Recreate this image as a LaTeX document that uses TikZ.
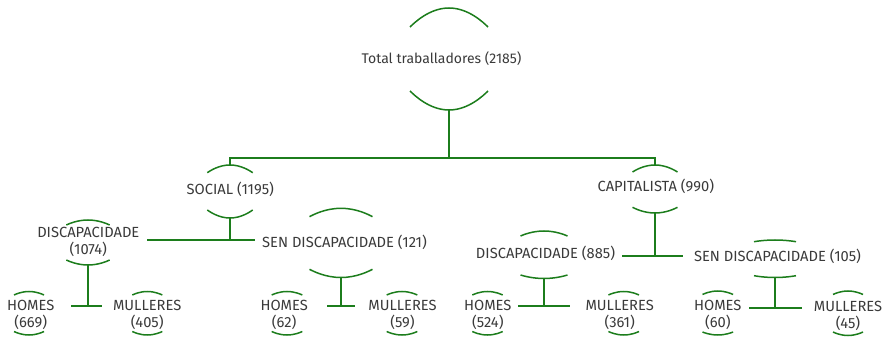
\documentclass[tikz,border=0pt]{standalone}
\usepackage{fontspec}
\setmainfont{Fira Sans}
\definecolor{lineg}{RGB}{28,125,28}
\definecolor{txt}{RGB}{58,58,58}
\newcommand\arcsAt[7]{%
  \draw[arcline] ({#1-#2},#4) parabola bend (#1,#3) ({#1+#2},#4);
  \draw[arcline] ({#1-#2},#5) parabola bend (#1,#6) ({#1+#2},#5);
  \coordinate (#7-top) at (#1,#3);
  \coordinate (#7-bot) at (#1,#6);
}
\begin{document}
\begin{tikzpicture}[x=1pt,y=-1pt,
  arcline/.style={draw=lineg,line width=1.5pt},
  conn/.style={draw=lineg,line width=2pt},
  lbl/.style={text=txt,font=\fontsize{14}{17}\selectfont,inner sep=0pt,align=center},
  capslbl/.style={lbl,font=\fontsize{14.7}{17}\selectfont}]
\useasboundingbox (0,0) rectangle (884,339);
% text nodes
\node[lbl] (T) at (441.5,59) {Total traballadores (2185)};
\node[capslbl] (S) at (230.3,189) {SOCIAL (1195)};
\node[capslbl] (C) at (655.8,186) {CAPITALISTA (990)};
\node[capslbl] (SD) at (88.3,241.7) {DISCAPACIDADE\\(1074)};
\node[capslbl] (SS) at (344.5,242.3) {SEN DISCAPACIDADE (121)};
\node[capslbl] (CD) at (545.5,253.3) {DISCAPACIDADE (885)};
\node[capslbl] (CS) at (777.5,256.5) {SEN DISCAPACIDADE (105)};
\node[capslbl] (L1) at (30.7,314.5) {HOMES\\(669)};
\node[capslbl] (L2) at (147.2,314.5) {MULLERES\\(405)};
\node[capslbl] (L3) at (284.2,314.5) {HOMES\\(62)};
\node[capslbl] (L4) at (402.5,314.5) {MULLERES\\(59)};
\node[capslbl] (L5) at (487.8,314.5) {HOMES\\(524)};
\node[capslbl] (L6) at (619.7,314.5) {MULLERES\\(361)};
\node[capslbl] (L7) at (717.8,314.5) {HOMES\\(60)};
\node[capslbl] (L8) at (848,316) {MULLERES\\(45)};
% arcs
\arcsAt{449}{39}{8}{27}{91}{110}{T}
\arcsAt{230}{22.7}{165}{172.7}{210}{218}{S}
\arcsAt{655}{22.5}{165}{172}{207.3}{213}{C}
\arcsAt{88}{21.7}{220}{225}{260}{265}{SD}
\arcsAt{341}{31.5}{208.3}{216.7}{269.3}{277.5}{SS}
\arcsAt{544}{23.5}{231}{236}{275}{278.5}{CD}
\arcsAt{775}{21}{240}{241.7}{275.7}{277.5}{CS}
\arcsAt{29}{15}{291.5}{295}{331.5}{335}{L1}
\arcsAt{147.3}{15}{291.5}{295}{331.5}{335}{L2}
\arcsAt{287}{15.3}{291.5}{295}{331.5}{335}{L3}
\arcsAt{402}{15.3}{291.5}{295}{331.5}{335}{L4}
\arcsAt{487.5}{15.2}{291.5}{295}{331.5}{335}{L5}
\arcsAt{623.7}{15.3}{291.5}{295}{331.5}{335}{L6}
\arcsAt{717.8}{15.3}{291}{294.5}{332}{335}{L7}
\arcsAt{848}{15}{291}{294.5}{332}{335.5}{L8}
% junction coordinates
\coordinate (J0) at (449,158);
\coordinate (JS) at (230,240);
\coordinate (JSl) at (147,240);
\coordinate (JSr) at (255,240);
\coordinate (JC) at (655,256);
\coordinate (JCl) at (622,256);
\coordinate (JCr) at (683,256);
\coordinate (JSD) at (88,306);
\coordinate (JSDl) at (71,306);
\coordinate (JSDr) at (102,306);
\coordinate (JSS) at (341,306);
\coordinate (JSSl) at (327,306);
\coordinate (JSSr) at (355,306);
\coordinate (JCD) at (544,306);
\coordinate (JCDl) at (518,306);
\coordinate (JCDr) at (570,306);
\coordinate (JCS) at (775,308);
\coordinate (JCSl) at (749,308);
\coordinate (JCSr) at (802,308);
% connectors
\draw[conn] (T-bot) -- (J0);
\draw[conn] (S-top) |- (J0) -| (C-top);
\draw[conn] (S-bot) -- (JS);
\draw[conn] (JSl) -- (JSr);
\draw[conn] (C-bot) -- (JC);
\draw[conn] (JCl) -- (JCr);
\draw[conn] (SD-bot) -- (JSD);
\draw[conn] (JSDl) -- (JSDr);
\draw[conn] (SS-bot) -- (JSS);
\draw[conn] (JSSl) -- (JSSr);
\draw[conn] (CD-bot) -- (JCD);
\draw[conn] (JCDl) -- (JCDr);
\draw[conn] (CS-bot) -- (JCS);
\draw[conn] (JCSl) -- (JCSr);
\end{tikzpicture}
\end{document}
